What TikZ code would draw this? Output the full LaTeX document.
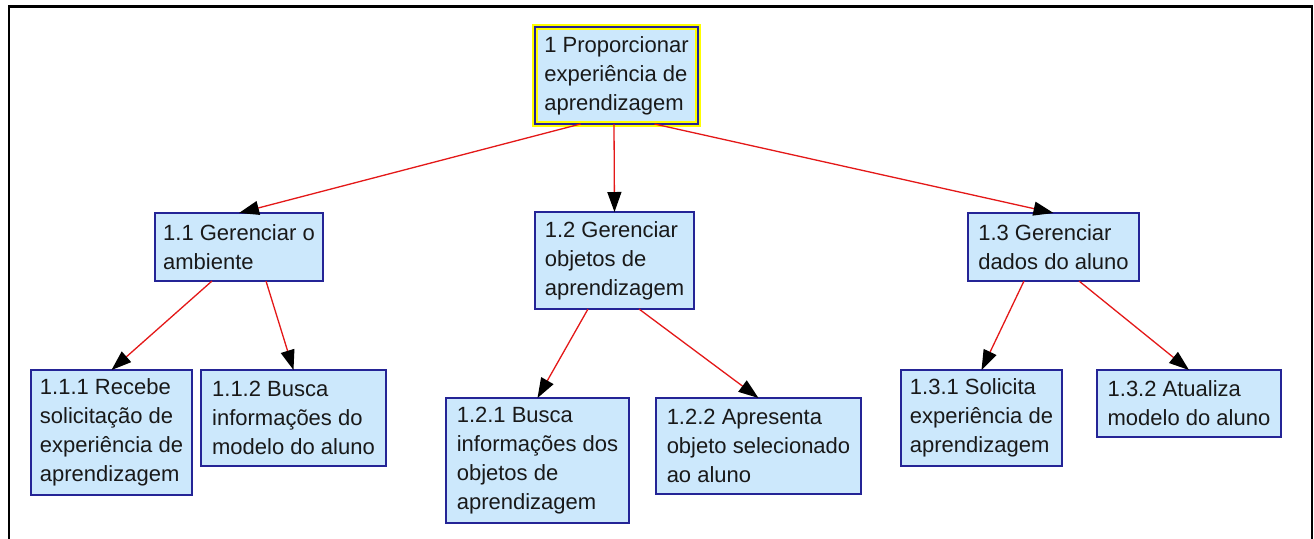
\documentclass[tikz,border=0pt]{standalone}
\usepackage{fontspec}
\setmainfont{Liberation Sans}
\usetikzlibrary{arrows.meta}
\definecolor{boxfill}{RGB}{204,232,252}
\definecolor{boxline}{RGB}{36,36,150}
\definecolor{edgered}{RGB}{228,24,24}
\definecolor{txt}{RGB}{25,25,25}
\definecolor{hilite}{RGB}{255,255,0}
\begin{document}
\begin{tikzpicture}[x=0.5pt,y=-0.5pt,
  box/.style={draw=boxline, fill=boxfill, line width=0.8pt, outer sep=0pt, inner sep=0pt,
    align=left, text=txt, font=\fontsize{11}{14.5}\selectfont, anchor=north west},
  edge/.style={draw=edgered, line width=0.65pt, -{Triangle[length=10pt,width=7pt,color=black]}},
  frame/.style={draw=black, line width=1.4pt}]
\useasboundingbox (0,0) rectangle (1314,538);
\fill[white] (0,0) rectangle (1314,538);
\draw[frame] (9,540) -- (9,6.7) -- (1312,6.7) -- (1312,540);

% root
\node[box, draw=hilite, line width=3.2pt, minimum width=81.5pt, minimum height=48.5pt] (root) at (535,27)
  {1 Proporcionar\\experiência de\\aprendizagem};
\draw[boxline, line width=0.9pt] (root.south west) rectangle (root.north east);

% level 1
\node[box, minimum width=84pt, minimum height=34pt] (n11) at (155,213) {1.1 Gerenciar o\\ambiente};
\node[box, minimum width=79.5pt, minimum height=48.5pt] (n12) at (535,212) {1.2 Gerenciar\\objetos de\\aprendizagem};
\node[box, minimum width=85.5pt, minimum height=34pt] (n13) at (968,213) {1.3 Gerenciar\\dados do aluno};

% level 2
\node[box, minimum width=80.5pt, minimum height=62.5pt] (n111) at (31,370) {1.1.1 Recebe\\solicitação de\\experiência de\\aprendizagem};
\node[box, minimum width=92.5pt, minimum height=48pt] (n112) at (201,370) {1.1.2 Busca\\informações do\\modelo do aluno};
\node[box, minimum width=91.5pt, minimum height=62.5pt] (n121) at (446,398) {1.2.1 Busca\\informações dos\\objetos de\\aprendizagem};
\node[box, minimum width=102.5pt, minimum height=48pt] (n122) at (656,398) {1.2.2 Apresenta\\objeto selecionado\\ao aluno};
\node[box, minimum width=80.5pt, minimum height=48pt] (n131) at (901,370) {1.3.1 Solicita\\experiência de\\aprendizagem};
\node[box, minimum width=92pt, minimum height=33.5pt] (n132) at (1097,370) {1.3.2 Atualiza\\modelo do aluno};

% connectors
\draw[edge] ([xshift=-18pt]root.south) -- (n11.north);
\draw[edge] ([xshift=-1.25pt]root.south) -- (n12.north);
\draw[edge] ([xshift=19pt]root.south) -- (n13.north);

\draw[edge] ([xshift=-13.5pt]n11.south) -- (n111.north);
\draw[edge] ([xshift=13.5pt]n11.south) -- (n112.north);

\draw[edge] ([xshift=-13.25pt]n12.south) -- (n121.north);
\draw[edge] ([xshift=12.25pt]n12.south) -- (n122.north);

\draw[edge] ([xshift=-14.75pt]n13.south) -- (n131.north);
\draw[edge] ([xshift=12.75pt]n13.south) -- (n132.north);
\end{tikzpicture}
\end{document}
